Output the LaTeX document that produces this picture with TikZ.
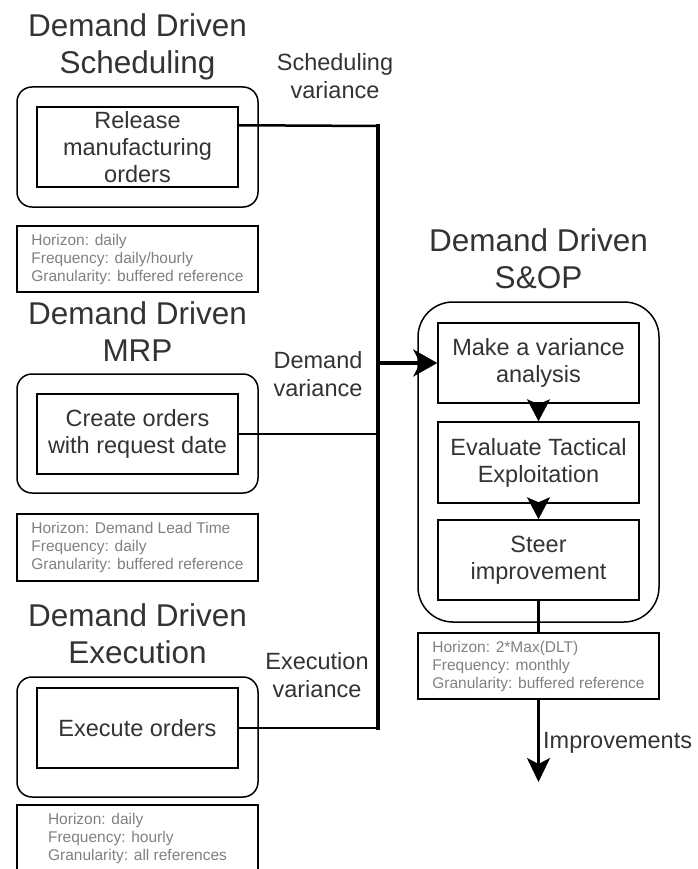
\documentclass[tikz,border=0pt]{standalone}
\usepackage{fontspec}
\setmainfont{Liberation Sans}
\usetikzlibrary{arrows.meta,calc}
\definecolor{tgray}{HTML}{333333}
\definecolor{igray}{HTML}{808080}
\begin{document}
\begin{tikzpicture}[x=1pt,y=-1pt,
  titletext/.style={text=tgray,align=center,inner sep=0pt,font=\fontsize{31.5}{37}\selectfont},
  labeltext/.style={text=tgray,align=center,inner sep=0pt,font=\fontsize{23.5}{28}\selectfont},
  outerbox/.style={draw,line width=1.5pt,rounded corners=15pt,minimum width=241pt,minimum height=120pt,inner sep=0pt},
  innerbox/.style={draw,line width=1.5pt,minimum width=201pt,minimum height=80pt,inner sep=0pt,align=center,text=tgray,font=\fontsize{23.5}{27}\selectfont},
  infobox/.style={draw,line width=1.5pt,minimum width=241pt,minimum height=66pt,inner sep=0pt,align=left,text=igray,font=\fontsize{15.5}{18}\selectfont},
  conn/.style={line width=2.5pt},
  vert/.style={line width=3.2pt},
  mainarrow/.style={line width=3.5pt,-{Stealth[length=24pt,width=27pt,inset=7pt]}},
  steparrow/.style={line width=1.5pt,-{Stealth[length=22pt,width=23pt,inset=5pt]}},
  outarrow/.style={line width=2.5pt,-{Stealth[length=24pt,width=23pt,inset=6pt]}}
]
\useasboundingbox (0,0) rectangle (697,869);
% Scheduling
\node[titletext] (t1) at (137.5,46.5) {Demand Driven\\Scheduling};
\node[outerbox] (so) at (137.5,147) {};
\node[innerbox] (schin) at (137.5,147) {Release\\manufacturing\\orders};
\node[infobox] (i1) at (137.5,259) {Horizon: daily\\Frequency: daily/hourly\\Granularity: buffered reference};
\node[labeltext] (l1) at (335,76) {Scheduling\\variance};
% MRP
\node[titletext] (t2) at (137.5,331.5) {Demand Driven\\MRP};
\node[outerbox,minimum height=119pt] (mo) at (137.5,433.5) {};
\node[innerbox] (mrpin) at (137.5,434) {Create orders\\with request date};
\node[infobox,minimum height=67pt] (i2) at (137.5,547.5) {Horizon: Demand Lead Time\\Frequency: daily\\Granularity: buffered reference};
\node[labeltext] (l2) at (318,374) {Demand\\variance};
% Execution
\node[titletext] (t3) at (137.5,633.5) {Demand Driven\\Execution};
\node[outerbox] (eo) at (137.5,737) {};
\node[innerbox] (exin) at (137.5,728) {Execute orders};
\node[infobox] (i3) at (137.5,838) {Horizon: daily\\Frequency: hourly\\Granularity: all references};
\node[labeltext] (l3) at (317,675) {Execution\\variance};
% S&OP
\node[titletext] (t4) at (538.5,258.5) {Demand Driven\\S\&OP};
\node[outerbox,rounded corners=35pt,minimum height=320pt] (sopo) at (538.5,462) {};
\node[innerbox] (sop1) at (538.5,363) {Make a variance\\analysis};
\node[innerbox,minimum height=81pt] (sop2) at (538.5,462.5) {Evaluate Tactical\\Exploitation};
\node[innerbox] (sop3) at (538.5,560) {Steer\\improvement};
\node[infobox] (i4) at (538.5,666) {Horizon: 2*Max(DLT)\\Frequency: monthly\\Granularity: buffered reference};
\coordinate (impend) at (538.5,782);
\node[labeltext,anchor=west] (l4) at (543,743) {Improvements};
% connectors
\coordinate (jtop) at (378,126);
\coordinate (jbot) at (378,728);
\draw[conn] ($(schin.north east)+(0,19)$) -- (jtop);
\draw[vert] ([yshift=1.6pt]jtop) -- ([yshift=-1.6pt]jbot);
\draw[conn] (mrpin.east) -- (mrpin.east -| jtop);
\draw[conn] (exin.east) -- (jbot);
\draw[mainarrow] (sop1.west -| jtop) -- (sop1.west);
\draw[steparrow] (sop1.south) -- (sop2.north);
\draw[steparrow] (sop2.south) -- (sop3.north);
\draw[conn] (sop3.south) -- (i4.north);
\draw[outarrow] (i4.south) -- (impend);
\end{tikzpicture}
\end{document}
